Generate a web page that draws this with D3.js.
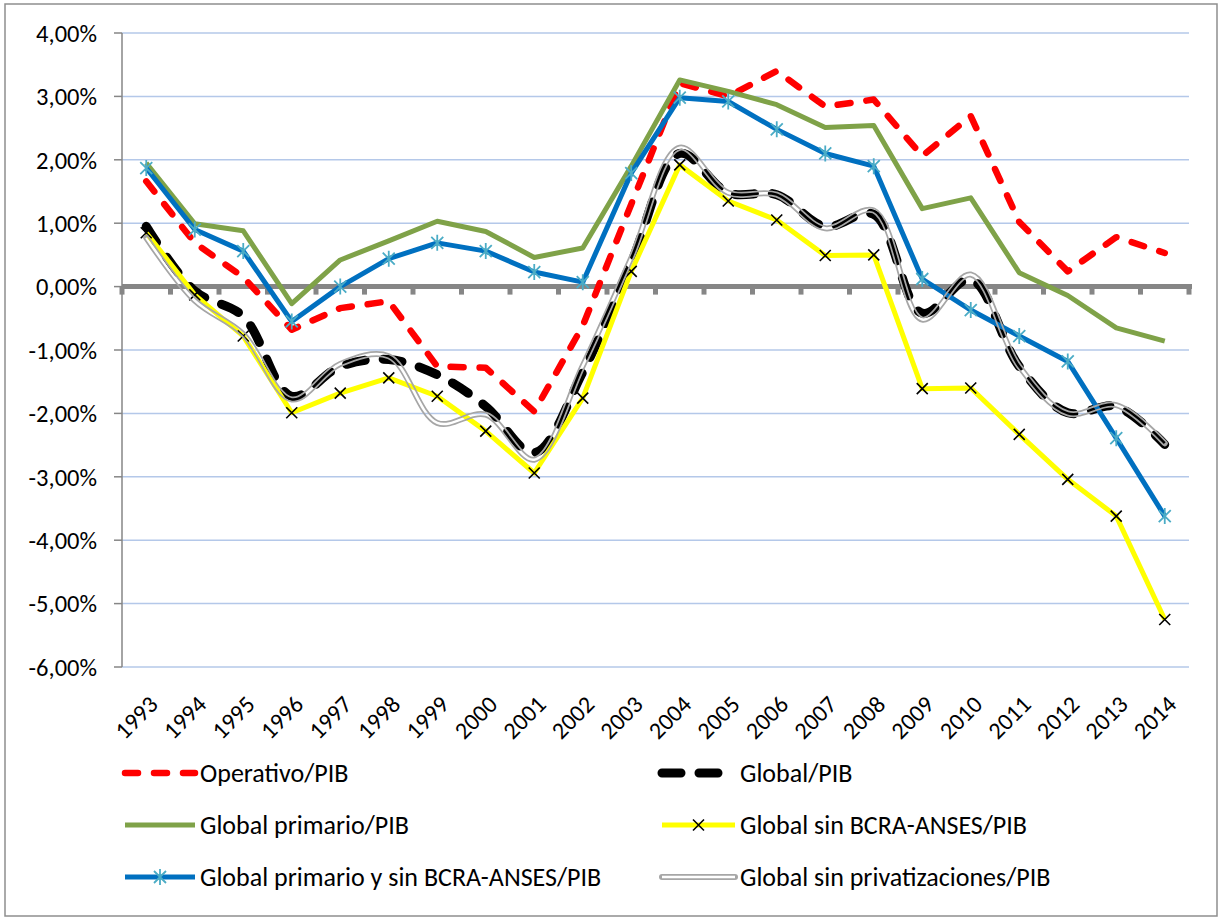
<!DOCTYPE html>
<html>
<head>
<meta charset="utf-8">
<script src="https://cdn.jsdelivr.net/npm/d3@7"></script>
<style>
  body { margin: 0; background: #fff; }
  text { font-family: Carlito, Lato, sans-serif; fill: #000; }
</style>
</head>
<body>
<svg id="chart" width="1221" height="920"></svg>
<script>
var years = ['1993','1994','1995','1996','1997','1998','1999','2000','2001','2002','2003',
    '2004','2005','2006','2007','2008','2009','2010','2011','2012','2013','2014'];
var yTicks = [4, 3, 2, 1, 0, -1, -2, -3, -4, -5, -6];

var operativo = [1.66, 0.69, 0.15, -0.68, -0.34, -0.23, -1.26, -1.28, -1.97, -0.62, 1.30,
    3.21, 3.00, 3.40, 2.84, 2.95, 2.06, 2.69, 1.02, 0.24, 0.78, 0.53];
var global = [0.95, -0.07, -0.47, -1.73, -1.26, -1.15, -1.39, -1.89, -2.62, -1.35, 0.38,
    2.10, 1.48, 1.45, 0.95, 1.14, -0.42, 0.11, -1.26, -1.99, -1.89, -2.49];
var globalPrimario = [1.95, 0.99, 0.88, -0.27, 0.42, 0.72, 1.03, 0.87, 0.46, 0.61, 1.90,
    3.26, 3.08, 2.87, 2.51, 2.54, 1.23, 1.40, 0.22, -0.14, -0.65, -0.86];
var sinBcra = [0.85, -0.13, -0.78, -1.99, -1.68, -1.44, -1.73, -2.28, -2.94, -1.76, 0.24,
    1.92, 1.35, 1.05, 0.49, 0.50, -1.61, -1.60, -2.33, -3.04, -3.62, -5.25];
var primarioSinBcra = [1.87, 0.90, 0.56, -0.55, 0.00, 0.44, 0.69, 0.56, 0.23, 0.07, 1.79,
    2.98, 2.92, 2.48, 2.10, 1.90, 0.12, -0.37, -0.78, -1.18, -2.39, -3.62];
var sinPrivatizaciones = [0.77, -0.22, -0.75, -1.78, -1.22, -1.10, -2.15, -2.02, -2.73, -1.25, 0.45,
    2.19, 1.48, 1.45, 0.92, 1.20, -0.52, 0.19, -1.26, -2.00, -1.87, -2.47];

var series = [
    {name: 'Operativo/PIB', values: operativo, type: 'red'},
    {name: 'Global/PIB', values: global, type: 'black'},
    {name: 'Global primario/PIB', values: globalPrimario, type: 'green'},
    {name: 'Global sin BCRA-ANSES/PIB', values: sinBcra, type: 'yellow'},
    {name: 'Global primario y sin BCRA-ANSES/PIB', values: primarioSinBcra, type: 'blue'},
    {name: 'Global sin privatizaciones/PIB', values: sinPrivatizaciones, type: 'gray'}
];

var svg = d3.select('#chart');
var plot = {left: 122, right: 1189, top: 33, bottom: 667};

var x = d3.scaleBand().domain(years).range([plot.left, plot.right]);
var y = d3.scaleLinear().domain([-6, 4]).range([plot.bottom, plot.top]);
function px(i) { return x(years[i]) + x.bandwidth() / 2; }
function fmt(v) { return (v < 0 ? '-' : '') + Math.abs(v).toFixed(2).replace('.', ',') + '%'; }

// chart frame
svg.append('rect')
    .attr('x', 5).attr('y', 4)
    .attr('width', 1212).attr('height', 912)
    .attr('fill', 'none')
    .attr('stroke', '#8e8e8e')
    .attr('stroke-width', 1.5);

// gridlines
svg.append('g').selectAll('line').data(yTicks.filter(function (d) { return d !== 0; }))
    .enter().append('line')
    .attr('x1', plot.left).attr('x2', plot.right)
    .attr('y1', function (d) { return y(d); })
    .attr('y2', function (d) { return y(d); })
    .attr('stroke', '#b4c8e9')
    .attr('stroke-width', 1.5);

// y axis
var yAxis = svg.append('g');
yAxis.append('line')
    .attr('x1', plot.left).attr('x2', plot.left)
    .attr('y1', plot.top).attr('y2', plot.bottom)
    .attr('stroke', '#868686').attr('stroke-width', 1.5);
yAxis.selectAll('.tick').data(yTicks).enter().append('line')
    .attr('x1', plot.left - 8).attr('x2', plot.left)
    .attr('y1', function (d) { return y(d); })
    .attr('y2', function (d) { return y(d); })
    .attr('stroke', '#868686').attr('stroke-width', 1.5);
yAxis.selectAll('text').data(yTicks).enter().append('text')
    .attr('x', 97)
    .attr('y', function (d) { return y(d); })
    .attr('dy', '0.36em')
    .attr('text-anchor', 'end')
    .style('font-size', '24.5px')
    .text(fmt);

// zero axis with category ticks
var zero = svg.append('g');
zero.append('line')
    .attr('x1', plot.left).attr('x2', plot.right + 3)
    .attr('y1', y(0)).attr('y2', y(0))
    .attr('stroke', '#868686').attr('stroke-width', 5);
zero.selectAll('.tick').data(years.concat(['end'])).enter().append('line')
    .attr('x1', function (d, i) { return plot.left + i * x.step(); })
    .attr('x2', function (d, i) { return plot.left + i * x.step(); })
    .attr('y1', y(0)).attr('y2', y(0) + 8)
    .attr('stroke', '#868686').attr('stroke-width', 5);

// x labels
svg.append('g').selectAll('text').data(years).enter().append('text')
    .attr('transform', function (d, i) { return 'translate(' + (px(i) + 13) + ',706) rotate(-45)'; })
    .attr('text-anchor', 'end')
    .style('font-size', '24px')
    .text(function (d) { return d; });

var defs = svg.append('defs');

var straight = d3.line()
    .x(function (d, i) { return px(i); })
    .y(function (d) { return y(d); });
var smooth = d3.line()
    .x(function (d, i) { return px(i); })
    .y(function (d) { return y(d); })
    .curve(d3.curveCatmullRom.alpha(0.5));

function asterisk(g, cx, cy) {
    var r = 8;
    var a = r * 0.75;
    g.append('path')
        .attr('d', 'M' + cx + ',' + (cy - r) + 'V' + (cy + r) +
            'M' + (cx - a) + ',' + (cy - a) + 'L' + (cx + a) + ',' + (cy + a) +
            'M' + (cx - a) + ',' + (cy + a) + 'L' + (cx + a) + ',' + (cy - a))
        .attr('stroke', '#4bacc6').attr('stroke-width', 1.8).attr('fill', 'none');
}
function cross(g, cx, cy) {
    var r = 5.5;
    g.append('path')
        .attr('d', 'M' + (cx - r) + ',' + (cy - r) + 'L' + (cx + r) + ',' + (cy + r) +
            'M' + (cx - r) + ',' + (cy + r) + 'L' + (cx + r) + ',' + (cy - r))
        .attr('stroke', '#000').attr('stroke-width', 1.6).attr('fill', 'none');
}

function drawSeries(g, type, d, id) {
    if (type === 'red') {
        g.append('path').attr('d', d).attr('fill', 'none')
            .attr('stroke', '#ff0000').attr('stroke-width', 6.5)
            .attr('stroke-linecap', 'round').attr('stroke-linejoin', 'round')
            .attr('stroke-dasharray', '13,16');
    } else if (type === 'black') {
        g.append('path').attr('d', d).attr('fill', 'none')
            .attr('stroke', '#000').attr('stroke-width', 9)
            .attr('stroke-linecap', 'round').attr('stroke-linejoin', 'round')
            .attr('stroke-dasharray', '19,18');
    } else if (type === 'green') {
        g.append('path').attr('d', d).attr('fill', 'none')
            .attr('stroke', '#7fa248').attr('stroke-width', 5)
            .attr('stroke-linejoin', 'round');
    } else if (type === 'yellow') {
        g.append('path').attr('d', d).attr('fill', 'none')
            .attr('stroke', '#ffff00').attr('stroke-width', 5)
            .attr('stroke-linejoin', 'round');
    } else if (type === 'blue') {
        g.append('path').attr('d', d).attr('fill', 'none')
            .attr('stroke', '#0070c0').attr('stroke-width', 5)
            .attr('stroke-linejoin', 'round');
    } else if (type === 'gray') {
        // double line: gray stroke with a transparent centre
        var m = defs.append('mask').attr('id', id)
            .attr('maskUnits', 'userSpaceOnUse')
            .attr('x', 0).attr('y', 0).attr('width', 1221).attr('height', 920);
        m.append('rect').attr('width', 1221).attr('height', 920).attr('fill', 'white');
        m.append('path').attr('d', d).attr('fill', 'none')
            .attr('stroke', 'black').attr('stroke-width', 2.5);
        g.append('path').attr('d', d).attr('fill', 'none')
            .attr('stroke', '#a6a6a6').attr('stroke-width', 6)
            .attr('stroke-linecap', 'round')
            .attr('mask', 'url(#' + id + ')');
    }
}

// series
var lines = svg.append('g');
series.forEach(function (s, k) {
    var g = lines.append('g');
    var isSmooth = s.type === 'black' || s.type === 'gray';
    drawSeries(g, s.type, (isSmooth ? smooth : straight)(s.values), 'dbl' + k);
    s.values.forEach(function (v, i) {
        if (s.type === 'blue') asterisk(g, px(i), y(v));
        if (s.type === 'yellow') cross(g, px(i), y(v));
    });
});

// legend
var legendCols = [{x0: 125, x1: 195, tx: 200}, {x0: 662, x1: 735, tx: 740}];
var legendRows = [773, 825, 877];
var legend = svg.append('g');
series.forEach(function (s, k) {
    var c = legendCols[k % 2];
    var ly = legendRows[Math.floor(k / 2)];
    var g = legend.append('g');
    drawSeries(g, s.type, 'M' + c.x0 + ',' + ly + 'H' + c.x1, 'ldbl' + k);
    if (s.type === 'blue') asterisk(g, (c.x0 + c.x1) / 2, ly);
    if (s.type === 'yellow') cross(g, (c.x0 + c.x1) / 2, ly);
    g.append('text')
        .attr('x', c.tx).attr('y', ly)
        .attr('dy', '0.36em')
        .style('font-size', '26px')
        .text(s.name);
});
</script>
</body>
</html>
